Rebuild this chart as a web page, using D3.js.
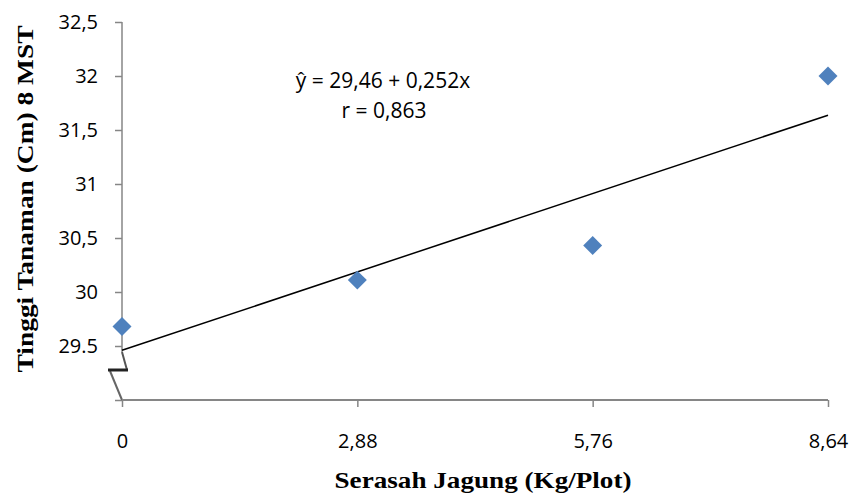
<!DOCTYPE html>
<html>
<head>
<meta charset="utf-8">
<script src="https://cdn.jsdelivr.net/npm/d3@7"></script>
<style>
  body { margin: 0; background: #fff; }
  svg { display: block; }
</style>
</head>
<body>
<svg id="chart"></svg>
<script>
// data
const xValues = [0, 2.88, 5.76, 8.64]
const yValues = [29.68, 30.11, 30.43, 32.0]
const xTicks = [0, 2.88, 5.76, 8.64]
const xTickLabels = ['0', '2,88', '5,76', '8,64']
const yTicks = [29.5, 30, 30.5, 31, 31.5, 32, 32.5]
const yTickLabels = ['29.5', '30', '30,5', '31', '31,5', '32', '32,5']
const intercept = 29.46
const slope = 0.252
const equationText = 'ŷ = 29,46 + 0,252x'
const rText = 'r = 0,863'

const width = 853
const height = 502
const axisColor = '#868686'
const pointColor = '#4F81BD'
const labelFont = '"Open Sans", "Liberation Sans", sans-serif'
const titleFont = '"Liberation Serif", "DejaVu Serif", serif'

const svg = d3.select('#chart')
  .attr('width', width)
  .attr('height', height)

const x = d3.scaleLinear().domain([0, 8.64]).range([122, 828])
const y = d3.scaleLinear().domain([29, 32.5]).range([400, 22])

// y axis
const yAxis = svg.append('g')
  .attr('transform', `translate(${x(0)},0)`)
  .call(d3.axisLeft(y).tickValues(yTicks.concat([29]))
    .tickSize(7).tickPadding(17)
    .tickFormat(d => {
      const i = yTicks.indexOf(d)
      return i < 0 ? '' : yTickLabels[i]
    }))
yAxis.select('.domain').remove()
yAxis.selectAll('line').attr('stroke', axisColor).attr('stroke-width', 1.5)
yAxis.selectAll('text')
  .attr('font-family', labelFont).attr('font-size', 20).attr('fill', '#000')

// y axis line with break
svg.append('line')
  .attr('x1', x(0)).attr('x2', x(0))
  .attr('y1', y(32.5)).attr('y2', y(29.5) + 6)
  .attr('stroke', axisColor).attr('stroke-width', 1.5)
svg.append('path')
  .attr('d', `M${x(0)},${y(29.5) + 6} L${x(0) + 5},${y(29.5) + 24}`)
  .attr('fill', 'none').attr('stroke', '#555').attr('stroke-width', 2)
svg.append('path')
  .attr('d', `M${x(0) - 12},${y(29.5) + 25} L${x(0)},${y(29)}`)
  .attr('fill', 'none').attr('stroke', '#666').attr('stroke-width', 2)
svg.append('path')
  .attr('d', `M${x(0) - 14},${y(29.5) + 24} L${x(0) + 6},${y(29.5) + 24}`)
  .attr('fill', 'none').attr('stroke', '#222').attr('stroke-width', 3)

// x axis
const xAxis = svg.append('g')
  .attr('transform', `translate(0,${y(29)})`)
  .call(d3.axisBottom(x).tickValues(xTicks)
    .tickSize(7).tickPadding(27)
    .tickFormat((d, i) => xTickLabels[i]))
xAxis.select('.domain').attr('stroke', axisColor).attr('stroke-width', 2)
  .attr('d', `M${x(0)},0H${x(8.64)}`)
xAxis.selectAll('line').attr('stroke', axisColor).attr('stroke-width', 1.5)
xAxis.selectAll('text')
  .attr('font-family', labelFont).attr('font-size', 20).attr('fill', '#000')

// trend line
svg.append('line')
  .attr('x1', x(0)).attr('y1', y(intercept))
  .attr('x2', x(8.64)).attr('y2', y(intercept + slope * 8.64))
  .attr('stroke', '#000').attr('stroke-width', 1.5)

// points
const diamond = d3.symbol().type(d3.symbolSquare).size(180)
svg.append('g').selectAll('path')
  .data(xValues.map((v, i) => [v, yValues[i]]))
  .join('path')
  .attr('d', diamond)
  .attr('transform', d => `translate(${x(d[0])},${y(d[1])}) rotate(45)`)
  .attr('fill', pointColor)

// equation
svg.append('text')
  .attr('x', 383).attr('y', 88)
  .attr('text-anchor', 'middle')
  .attr('font-family', labelFont).attr('font-size', 21)
  .text(equationText)
svg.append('text')
  .attr('x', 384).attr('y', 118)
  .attr('text-anchor', 'middle')
  .attr('font-family', labelFont).attr('font-size', 21)
  .text(rText)

// axis titles
svg.append('text')
  .attr('x', 483).attr('y', 488)
  .attr('text-anchor', 'middle')
  .attr('font-family', titleFont).attr('font-weight', 'bold').attr('font-size', 23)
  .attr('textLength', 297).attr('lengthAdjust', 'spacingAndGlyphs')
  .text('Serasah Jagung (Kg/Plot)')
svg.append('text')
  .attr('transform', 'translate(33,199) rotate(-90)')
  .attr('text-anchor', 'middle')
  .attr('font-family', titleFont).attr('font-weight', 'bold').attr('font-size', 23)
  .attr('textLength', 347).attr('lengthAdjust', 'spacingAndGlyphs')
  .text('Tinggi Tanaman (Cm) 8 MST')
</script>
</body>
</html>
